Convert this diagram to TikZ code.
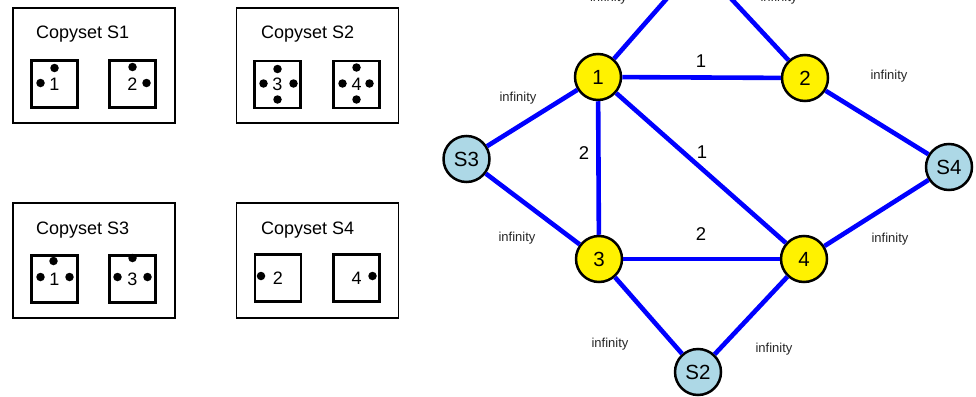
\documentclass[tikz,border=0pt]{standalone}
\usepackage{fontspec}
\setmainfont{Liberation Sans}
\begin{document}
\begin{tikzpicture}[x=1pt,y=-1pt,
  outerbox/.style={draw, line width=1.8pt, minimum width=162pt, minimum height=115pt, inner sep=0pt},
  innerbox/.style={draw, line width=2.8pt, minimum width=46pt, minimum height=47pt, inner sep=0pt,
    font=\fontsize{18}{20}\selectfont},
  boxtitle/.style={anchor=base west, inner sep=0pt, font=\fontsize{18}{20}\selectfont},
  chip/.style={circle, fill=black, minimum size=8.5pt, inner sep=0pt},
  server/.style={circle, draw=black, line width=2.5pt, minimum size=46pt, inner sep=0pt,
    font=\fontsize{20.5}{22}\selectfont},
  member/.style={server, fill=yellow},
  site/.style={server, fill={rgb,255:red,173;green,216;blue,230}},
  link/.style={draw={rgb,255:red,0;green,0;blue,255}, line width=4.6pt},
  weight/.style={inner sep=0pt, font=\fontsize{18.5}{20}\selectfont},
  inflabel/.style={inner sep=0pt, text=black!85, font=\fontsize{13}{15}\selectfont}]

\useasboundingbox (0,0) rectangle (976,396);
\clip (0,0) rectangle (976,396);

% ---------- copysets ----------
\node[outerbox] (cs1) at (94,65.5) {};
\node[outerbox] (cs2) at (317.5,65.5) {};
\node[outerbox] (cs3) at (94,260.5) {};
\node[outerbox] (cs4) at (317.5,260.5) {};

\node[boxtitle] (t1) at (36,39) {Copyset S1};
\node[boxtitle] (t2) at (261,39) {Copyset S2};
\node[boxtitle] (t3) at (36,234) {Copyset S3};
\node[boxtitle] (t4) at (261,234) {Copyset S4};

\node[innerbox] (a1) at (54.5,84) {1};
\node[innerbox] (a2) at (132.5,84) {2};
\node[innerbox] (b3) at (277.5,84.5) {3};
\node[innerbox] (b4) at (356.5,84.5) {4};
\node[innerbox] (c1) at (54.5,279) {1};
\node[innerbox] (c3) at (132.5,279) {3};
\node[innerbox] (d2) at (278,278) {2};
\node[innerbox] (d4) at (356.5,278) {4};

% replica dots
\node[chip] (a1t) at ([shift={(0,-16)}]a1.center) {};
\node[chip] (a1l) at ([shift={(-14,-1)}]a1.center) {};
\node[chip] (a2t) at ([shift={(0,-17)}]a2.center) {};
\node[chip] (a2r) at ([shift={(14,-1)}]a2.center) {};

\node[chip] (b3t) at ([shift={(0,-15.5)}]b3.center) {};
\node[chip] (b3l) at ([shift={(-14,-1)}]b3.center) {};
\node[chip] (b3r) at ([shift={(16,-1)}]b3.center) {};
\node[chip] (b3b) at ([shift={(0,15)}]b3.center) {};
\node[chip] (b4t) at ([shift={(0,-17)}]b4.center) {};
\node[chip] (b4l) at ([shift={(-14,-1)}]b4.center) {};
\node[chip] (b4r) at ([shift={(13,-1)}]b4.center) {};
\node[chip] (b4b) at ([shift={(0,15)}]b4.center) {};

\node[chip] (c1t) at ([shift={(-1,-18)}]c1.center) {};
\node[chip] (c1l) at ([shift={(-14,-2)}]c1.center) {};
\node[chip] (c1r) at ([shift={(15,-2)}]c1.center) {};
\node[chip] (c3t) at ([shift={(0,-21)}]c3.center) {};
\node[chip] (c3l) at ([shift={(-15,-2)}]c3.center) {};
\node[chip] (c3r) at ([shift={(15,-2)}]c3.center) {};

\node[chip] (d2l) at ([shift={(-17,-2)}]d2.center) {};
\node[chip] (d4r) at ([shift={(16,-2)}]d4.center) {};

% ---------- placement graph ----------
\coordinate (s1) at (698,-37);
\node[site] (s2) at (698,372) {S2};
\node[site] (s3) at (466.5,159) {S3};
\node[site] (s4) at (949,167) {S4};
\node[member] (n1) at (598,77) {1};
\node[member] (n2) at (805,78) {2};
\node[member] (n3) at (599,259) {3};
\node[member] (n4) at (804,259) {4};

\path[link] (n1) -- (n2);
\path[link] (n1) -- (n3);
\path[link] (n1) -- (n4);
\path[link] (n3) -- (n4);
\path[link] (n1) -- (s1);
\path[link] (n2) -- (s1);
\path[link] (n1) -- (s3);
\path[link] (n3) -- (s3);
\path[link] (n2) -- (s4);
\path[link] (n4) -- (s4);
\path[link] (n3) -- (s2);
\path[link] (n4) -- (s2);

\node[weight] (w12) at (701,61) {1};
\node[weight] (w13) at (584,153) {2};
\node[weight] (w14) at (702,152) {1};
\node[weight] (w34) at (701,234) {2};

\node[inflabel, anchor=base] (i1) at (608.5,2) {infinity};
\node[inflabel, anchor=base] (i2) at (779,2) {infinity};
\node[inflabel] (i3) at (518,98) {infinity};
\node[inflabel] (i4) at (517,238) {infinity};
\node[inflabel] (i5) at (889,76) {infinity};
\node[inflabel] (i6) at (890,239) {infinity};
\node[inflabel] (i7) at (610,344) {infinity};
\node[inflabel] (i8) at (774,349) {infinity};
\end{tikzpicture}
\end{document}
